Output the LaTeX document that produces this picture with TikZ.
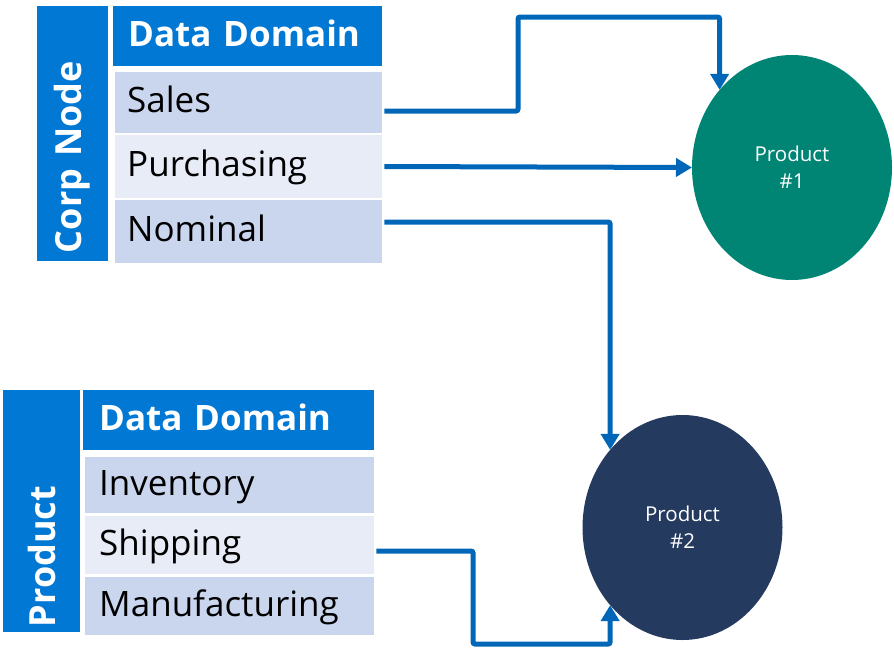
\documentclass[tikz,border=0pt]{standalone}
\usepackage{fontspec}
\setmainfont{Open Sans}
\usetikzlibrary{arrows.meta,shapes.geometric}
\definecolor{hdrblue}{HTML}{0078D4}
\definecolor{rowdark}{HTML}{CAD6EE}
\definecolor{rowlight}{HTML}{E8ECF7}
\definecolor{linkblue}{HTML}{0067B8}
\definecolor{prodteal}{HTML}{008575}
\definecolor{prodnavy}{HTML}{253A5F}
\begin{document}
        \begin{tikzpicture}[x=1pt, y=-1pt,
            side/.style={fill=hdrblue, text=white, rotate=90, align=left, inner ysep=0pt, font=\fontsize{36}{42}\selectfont\bfseries},
            head/.style={fill=hdrblue, text=white, anchor=west, align=left, minimum height=60pt, inner ysep=0pt, text height=22pt, text depth=2pt, font=\fontsize{35}{40}\selectfont\bfseries},
            row/.style={anchor=west, align=left, minimum height=#1, inner ysep=0pt, text height=22pt, text depth=2pt, font=\fontsize{35}{40}\selectfont},
            prod/.style={ellipse, minimum width=200pt, minimum height=225pt, inner sep=0pt, outer sep=0pt, text=white, align=center, font=\fontsize{20.5}{27}\selectfont},
            link/.style={draw=linkblue, line width=5pt, rounded corners=2pt, -{Triangle[width=18pt,length=16pt]}}]
            \useasboundingbox (0,0) rectangle (894,651);
            \node[side, minimum height=71pt, text width=239pt, inner xsep=8pt] (corp) at (72.5,133.5) {Corp Node};
            \node[head, text width=239pt, inner xsep=15pt] (dom1) at (113,36) {Data Domain};
            \node[row=61pt, fill=rowdark, text width=243pt, inner xsep=12pt] (sales) at (115,102.5) {Sales};
            \node[row=63pt, fill=rowlight, text width=243pt, inner xsep=12pt] (purch) at (115,166.5) {Purchasing};
            \node[row=63pt, fill=rowdark, text width=243pt, inner xsep=12pt] (nominal) at (115,231.5) {Nominal};

            \node[side, minimum height=77pt, text width=232pt, inner xsep=5pt] (prodbar) at (41.5,511) {Product};
            \node[head, text width=259pt, inner xsep=16pt] (dom2) at (83,420) {Data Domain};
            \node[row=56pt, fill=rowdark, text width=261pt, inner xsep=14pt] (inv) at (85,485) {Inventory};
            \node[row=58pt, fill=rowlight, text width=261pt, inner xsep=14pt] (ship) at (85,545) {Shipping};
            \node[row=58pt, fill=rowdark, text width=261pt, inner xsep=14pt] (manu) at (85,606) {Manufacturing};

            \node[prod, fill=prodteal] (p1) at (792,167.5) {Product\\\#1};
            \node[prod, fill=prodnavy] (p2) at (682.5,527.5) {Product\\\#2};

            \coordinate (bend1) at (518,17);
            \coordinate (bend4) at (473,644);
            \draw[link] ([shift={(2pt,-8.5pt)}]sales.east) -| (bend1) -| (p1.133);
            \draw[link] ([xshift=2pt]purch.east) -- (p1.west);
            \draw[link] ([shift={(2pt,9.5pt)}]nominal.east) -| (p2.133);
            \draw[link] ([shift={(2pt,-6pt)}]ship.east) -| (bend4) -| (p2.227);
        \end{tikzpicture}
\end{document}
